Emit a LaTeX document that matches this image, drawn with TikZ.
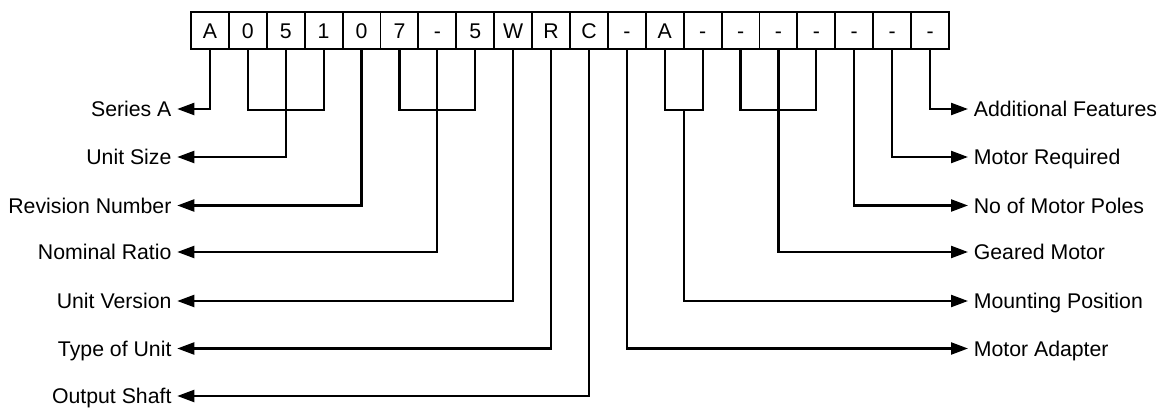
\documentclass[tikz,border=0pt]{standalone}
\usepackage{fontspec}
\setmainfont{Liberation Sans}
\usepackage{tikz}
\usetikzlibrary{arrows.meta}

\begin{document}
\begin{tikzpicture}[
        cella/.style={draw, line width=1.1pt, minimum width=0.758cm, minimum height=0.756cm, inner sep=0pt, text height=8.6pt, text depth=0pt},
        etich/.style={inner xsep=0.11cm, text height=8.6pt, text depth=0pt},
        linea/.style={line width=1.3pt},
        freccia/.style={line width=1.3pt, -{Triangle[length=0.34cm, width=0.24cm]}},
        font=\fontsize{12.1}{14}\selectfont]
        \useasboundingbox (0,0) rectangle (23.28,-8.2);

        % Caselle del codice
        \foreach \t [count=\i] in {A,0,5,1,0,7,-,5,W,R,C,-,A,-,-,-,-,-,-,-}
            \node[cella] (c\i) at ({3.82+0.758*(\i-0.5)}, -0.61) {\t};

        % Etichette a sinistra
        \node[etich, anchor=east] (serie) at (3.546,-2.18) {Series A};
        \node[etich, anchor=east] (taglia) at (3.546,-3.14) {Unit Size};
        \node[etich, anchor=east] (revis) at (3.546,-4.11) {Revision Number};
        \node[etich, anchor=east] (rapp) at (3.546,-5.04) {Nominal Ratio};
        \node[etich, anchor=east] (vers) at (3.546,-6.02) {Unit Version};
        \node[etich, anchor=east] (tipo) at (3.546,-6.97) {Type of Unit};
        \node[etich, anchor=east] (albero) at (3.546,-7.92) {Output Shaft};

        % Etichette a destra
        \node[etich, anchor=west] (extra) at (19.36,-2.18) {Additional Features};
        \node[etich, anchor=west] (motore) at (19.36,-3.14) {Motor Required};
        \node[etich, anchor=west] (poli) at (19.36,-4.11) {No of Motor Poles};
        \node[etich, anchor=west] (motorid) at (19.36,-5.04) {Geared Motor};
        \node[etich, anchor=west] (montaggio) at (19.36,-6.02) {Mounting Position};
        \node[etich, anchor=west] (adatt) at (19.36,-6.97) {Motor Adapter};

        % Parentesi
        \draw[linea] (c2.south) -- ++(0,-1.19) -| (c4.south);
        \draw[linea] (c6.south) -- ++(0,-1.19) -| (c8.south);
        \draw[linea] (c13.south) -- ++(0,-1.19) -| coordinate[pos=0.25] (mp) (c14.south);
        \draw[linea] (c15.south) -- ++(0,-1.19) -| (c17.south);

        % Frecce a sinistra
        \draw[freccia] (c1.south) |- (serie.east);
        \draw[freccia] (c3.south) |- (taglia.east);
        \draw[freccia] (c5.south) |- (revis.east);
        \draw[freccia] (c7.south) |- (rapp.east);
        \draw[freccia] (c9.south) |- (vers.east);
        \draw[freccia] (c10.south) |- (tipo.east);
        \draw[freccia] (c11.south) |- (albero.east);

        % Frecce a destra
        \draw[freccia] (c20.south) |- (extra.west);
        \draw[freccia] (c19.south) |- (motore.west);
        \draw[freccia] (c18.south) |- (poli.west);
        \draw[freccia] (c16.south) |- (motorid.west);
        \draw[freccia] (mp) |- (montaggio.west);
        \draw[freccia] (c12.south) |- (adatt.west);
    \end{tikzpicture}
\end{document}
